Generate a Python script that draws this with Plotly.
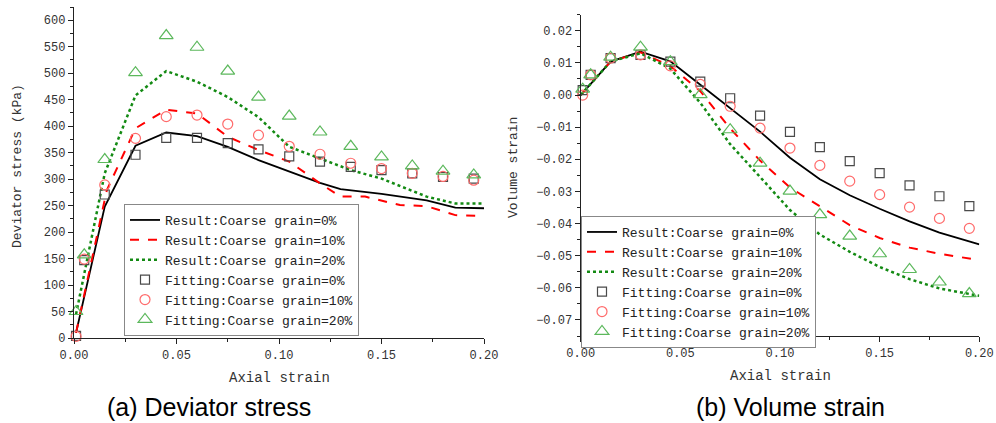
import plotly.graph_objects as go

# ---------------- (a) Deviator stress ----------------
a_black_x = [0.001, 0.015, 0.03, 0.045, 0.06, 0.075, 0.09, 0.105, 0.12, 0.13, 0.15, 0.172, 0.186, 0.2]
a_black_y = [10, 248, 363, 388, 381, 361, 336, 314, 293, 281, 272, 260, 246, 245]
a_red_x = [0.001, 0.016, 0.03, 0.045, 0.06, 0.075, 0.09, 0.105, 0.12, 0.13, 0.142, 0.159, 0.172, 0.186, 0.2]
a_red_y = [10, 279, 396, 431, 424, 380, 355, 333, 292, 267, 267, 251, 249, 232, 230]
a_green_x = [0.001, 0.015, 0.03, 0.045, 0.06, 0.075, 0.09, 0.105, 0.12, 0.135, 0.15, 0.172, 0.186, 0.2]
a_green_y = [45, 311, 458, 504, 484, 455, 417, 361, 339, 317, 301, 267, 254, 254]

a_fit_x = [0.001, 0.005, 0.015, 0.03, 0.045, 0.06, 0.075, 0.09, 0.105, 0.12, 0.135, 0.15, 0.165, 0.18, 0.195]
a_fit_0 = [4, 147, 271, 346, 378, 378, 368, 356, 343, 333, 323, 317, 311, 304, 301]
a_fit_10 = [3, 149, 289, 377, 418, 421, 404, 383, 362, 347, 330, 320, 311, 305, 298]
a_fit_20 = [50, 157, 337, 501, 571, 549, 504, 455, 419, 389, 362, 342, 325, 315, 308]

# ---------------- (b) Volume strain ----------------
b_line_x = [0, 0.015, 0.03, 0.045, 0.06, 0.075, 0.09, 0.105, 0.12, 0.135, 0.15, 0.165, 0.18, 0.2]
b_black_y = [0.0, 0.0104, 0.0135, 0.0105, 0.0032, -0.0042, -0.0114, -0.0195, -0.0262, -0.0312, -0.0354, -0.0393, -0.0428, -0.0465]
b_red_y = [0.0, 0.0104, 0.0133, 0.0090, 0.0012, -0.0104, -0.0204, -0.0288, -0.0346, -0.0405, -0.0445, -0.0475, -0.0494, -0.0514]
b_green_y = [0.0, 0.0104, 0.0130, 0.0082, -0.0024, -0.0153, -0.0255, -0.0358, -0.0434, -0.0488, -0.0535, -0.0573, -0.0602, -0.0625]

b_fit_x = [0.001, 0.005, 0.015, 0.03, 0.045, 0.06, 0.075, 0.09, 0.105, 0.12, 0.135, 0.15, 0.165, 0.18, 0.195]
b_fit_0 = [0.0015, 0.0063, 0.0115, 0.0125, 0.0104, 0.0042, -0.0010, -0.0064, -0.0115, -0.0162, -0.0206, -0.0243, -0.0281, -0.0315, -0.0346]
b_fit_10 = [0.0, 0.0063, 0.0115, 0.0125, 0.0091, 0.0033, -0.0035, -0.0103, -0.0165, -0.0219, -0.0268, -0.0310, -0.0349, -0.0384, -0.0415]
b_fit_20 = [0.0018, 0.0063, 0.0118, 0.0149, 0.0104, 0.0001, -0.0108, -0.0212, -0.0299, -0.0372, -0.0439, -0.0494, -0.0543, -0.0582, -0.0618]

names = ["Result:Coarse grain=0%", "Result:Coarse grain=10%", "Result:Coarse grain=20%",
         "Fitting:Coarse grain=0%", "Fitting:Coarse grain=10%", "Fitting:Coarse grain=20%"]

BLACK = "#000000"
RED = "#ff0000"
GREEN = "#138a13"
SQ = "#4a4a4a"
CI = "#ff6b6b"
TR = "#5cb85c"

MONO = "Liberation Mono"

fig = go.Figure()

def add_set(xa, ya, leg, lines, fx, fits):
    styles = [dict(color=BLACK, width=1.8, dash="solid"),
              dict(color=RED, width=2, dash="dash"),
              dict(color=GREEN, width=2.5, dash="dot")]
    for (x, y), st, nm in zip(lines, styles, names[:3]):
        fig.add_trace(go.Scatter(x=x, y=y, mode="lines", name=nm, line=st,
                                 xaxis=xa, yaxis=ya, legend=leg))
    msty = [dict(symbol="square-open", size=9, color=SQ, line=dict(width=1.2)),
            dict(symbol="circle-open", size=10, color=CI, line=dict(width=1.2)),
            dict(symbol="triangle-up-open", size=12, color=TR, line=dict(width=1.2))]
    for y, ms, nm in zip(fits, msty, names[3:]):
        fig.add_trace(go.Scatter(x=fx, y=y, mode="markers", name=nm, marker=ms,
                                 xaxis=xa, yaxis=ya, legend=leg, cliponaxis=False))

add_set("x", "y", "legend",
        [(a_black_x, a_black_y), (a_red_x, a_red_y), (a_green_x, a_green_y)],
        a_fit_x, [a_fit_0, a_fit_10, a_fit_20])
add_set("x2", "y2", "legend2",
        [(b_line_x, b_black_y), (b_line_x, b_red_y), (b_line_x, b_green_y)],
        b_fit_x, [b_fit_0, b_fit_10, b_fit_20])

W, H = 996, 423
axis_common = dict(showline=True, linecolor="#222", linewidth=1.3, ticks="outside",
                   ticklen=5, tickwidth=1.2, tickcolor="#222", showgrid=False, zeroline=False,
                   automargin=False,
                   tickfont=dict(family=MONO, size=12, color="#333"))

leg_common = dict(xanchor="left", yanchor="top", bgcolor="white", bordercolor="#888",
                  borderwidth=1, font=dict(family=MONO, size=13, color="#222"),
                  tracegroupgap=0, itemwidth=30)

fig.update_layout(
    template="none",
    width=W, height=H, margin=dict(l=0, r=0, t=0, b=0, pad=0, autoexpand=False),
    paper_bgcolor="white", plot_bgcolor="white",
    xaxis=dict(domain=[74 / W, 484 / W], range=[0, 0.2], dtick=0.05, tick0=0, tickformat=".2f",
               minor=dict(ticks="outside", ticklen=3, dtick=0.025, tickcolor="#222"),
               anchor="y", **axis_common),
    yaxis=dict(domain=[1 - 338 / H, 1 - 7 / H], range=[0, 625], dtick=50, tick0=0,
               minor=dict(ticks="outside", ticklen=3, dtick=25, tickcolor="#222"),
               anchor="x", **axis_common),
    xaxis2=dict(domain=[580.7 / W, 979.3 / W], range=[0, 0.2], dtick=0.05, tick0=0, tickformat=".2f",
                minor=dict(ticks="outside", ticklen=3, dtick=0.025, tickcolor="#222"),
                anchor="y2", **axis_common),
    yaxis2=dict(domain=[1 - 336 / H, 1 - 14.7 / H], range=[-0.075, 0.025], dtick=0.01, tick0=0,
                tickformat=".2f",
                minor=dict(ticks="outside", ticklen=3, dtick=0.005, tickcolor="#222"),
                anchor="x2", **axis_common),
    legend=dict(x=124 / W, y=1 - 204 / H, **leg_common),
    legend2=dict(x=581 / W, y=1 - 216 / H, **leg_common),
    showlegend=True,
)

ann = [
    dict(text="Axial strain", x=279 / W, y=1 - 378 / H, size=14, angle=0, fam=MONO, col="#333"),
    dict(text="Axial strain", x=780 / W, y=1 - 376 / H, size=14, angle=0, fam=MONO, col="#333"),
    dict(text="Deviator stress (kPa)", x=17 / W, y=1 - 166 / H, size=13, angle=-90, fam=MONO, col="#333"),
    dict(text="Volume strain", x=513 / W, y=1 - 168 / H, size=13, angle=-90, fam=MONO, col="#333"),
    dict(text="(a) Deviator stress", x=209 / W, y=1 - 407 / H, size=25, angle=0, fam="Liberation Sans", col="#000"),
    dict(text="(b) Volume strain", x=790 / W, y=1 - 407 / H, size=25, angle=0, fam="Liberation Sans", col="#000"),
]
for a in ann:
    fig.add_annotation(text=a["text"], x=a["x"], y=a["y"], xref="paper", yref="paper",
                       showarrow=False, textangle=a["angle"], xanchor="center", yanchor="middle",
                       font=dict(family=a["fam"], size=a["size"], color=a["col"]))

fig.write_html("out.html")
